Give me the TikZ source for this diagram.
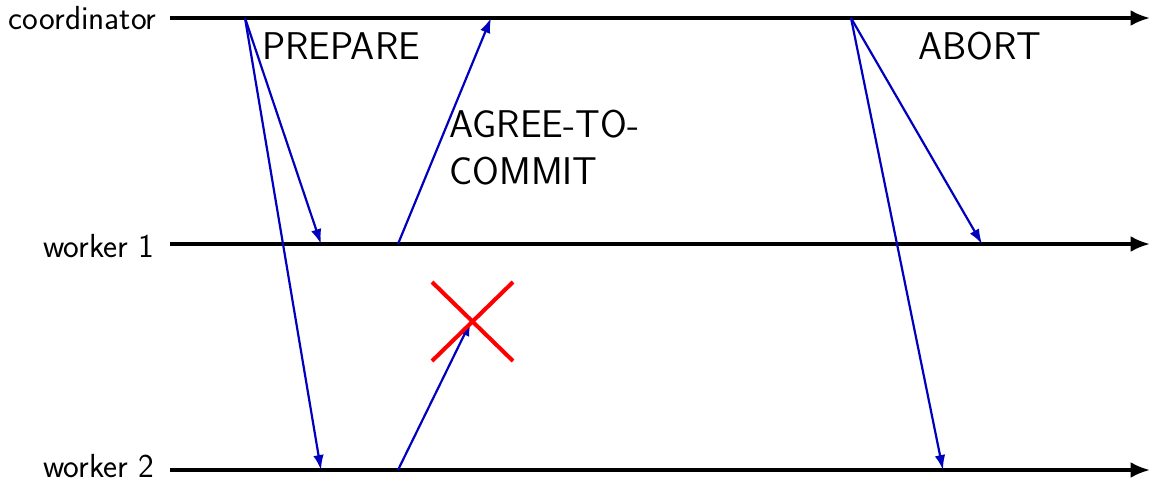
\documentclass[tikz,border=0pt]{standalone}
\usetikzlibrary{arrows.meta}
\begin{document}
\begin{tikzpicture}[x=0.02cm,y=-0.02cm,
  timeline/.style={line width=1.9pt,-{Latex[length=11pt,width=9pt]}},
  msg/.style={line width=1.25pt,draw={rgb,255:red,0;green,0;blue,190},-{Latex[length=8.5pt,width=6pt]}},
  proc/.style={anchor=east,inner sep=0pt,font=\sffamily\fontsize{19}{22}\selectfont},
  msglabel/.style={inner sep=0pt,font=\sffamily\fontsize{22}{26.5}\selectfont,align=left},
  cross/.style={line width=2.3pt,draw=red}]
\useasboundingbox (0,0) rectangle (1153,485);
% process labels
\node[proc] (lc) at (157,18) {coordinator};
\node[proc] (l1) at (155,246) {worker 1};
\node[proc] (l2) at (155,466) {worker 2};
% timeline endpoints
\coordinate (cs) at (170,18);  \coordinate (ce) at (1150,18);
\coordinate (w1s) at (170,244); \coordinate (w1e) at (1150,244);
\coordinate (w2s) at (170,470); \coordinate (w2e) at (1150,470);
\draw[timeline] (cs) -- (ce);
\draw[timeline] (w1s) -- (w1e);
\draw[timeline] (w2s) -- (w2e);
% event points
\coordinate (p0) at (245,18);
\coordinate (p1) at (321,244);
\coordinate (p2) at (321,470);
\coordinate (a1) at (398,244);
\coordinate (a1e) at (491,18);
\coordinate (a2) at (398,470);
\coordinate (lost) at (471,321);
\coordinate (b0) at (851,18);
\coordinate (b1) at (982,244);
\coordinate (b2) at (943,470);
% messages
\draw[msg] (p0) -- (p1);
\draw[msg] (p0) -- (p2);
\draw[msg] (a1) -- (a1e);
\draw[msg] (a2) -- (lost);
\draw[msg] (b0) -- (b1);
\draw[msg] (b0) -- (b2);
% cross
\coordinate (x1) at (432,282); \coordinate (x2) at (513,361);
\coordinate (x3) at (432,361); \coordinate (x4) at (513,282);
\draw[cross] (x1) -- (x2);
\draw[cross] (x3) -- (x4);
% labels
\node[msglabel,anchor=west] (tprep) at (262,46) {PREPARE};
\node[msglabel,anchor=north west] (tagree) at (449,110) {AGREE-TO-\\COMMIT};
\node[msglabel,anchor=west] (tabort) at (918,46) {ABORT};
\end{tikzpicture}
\end{document}
